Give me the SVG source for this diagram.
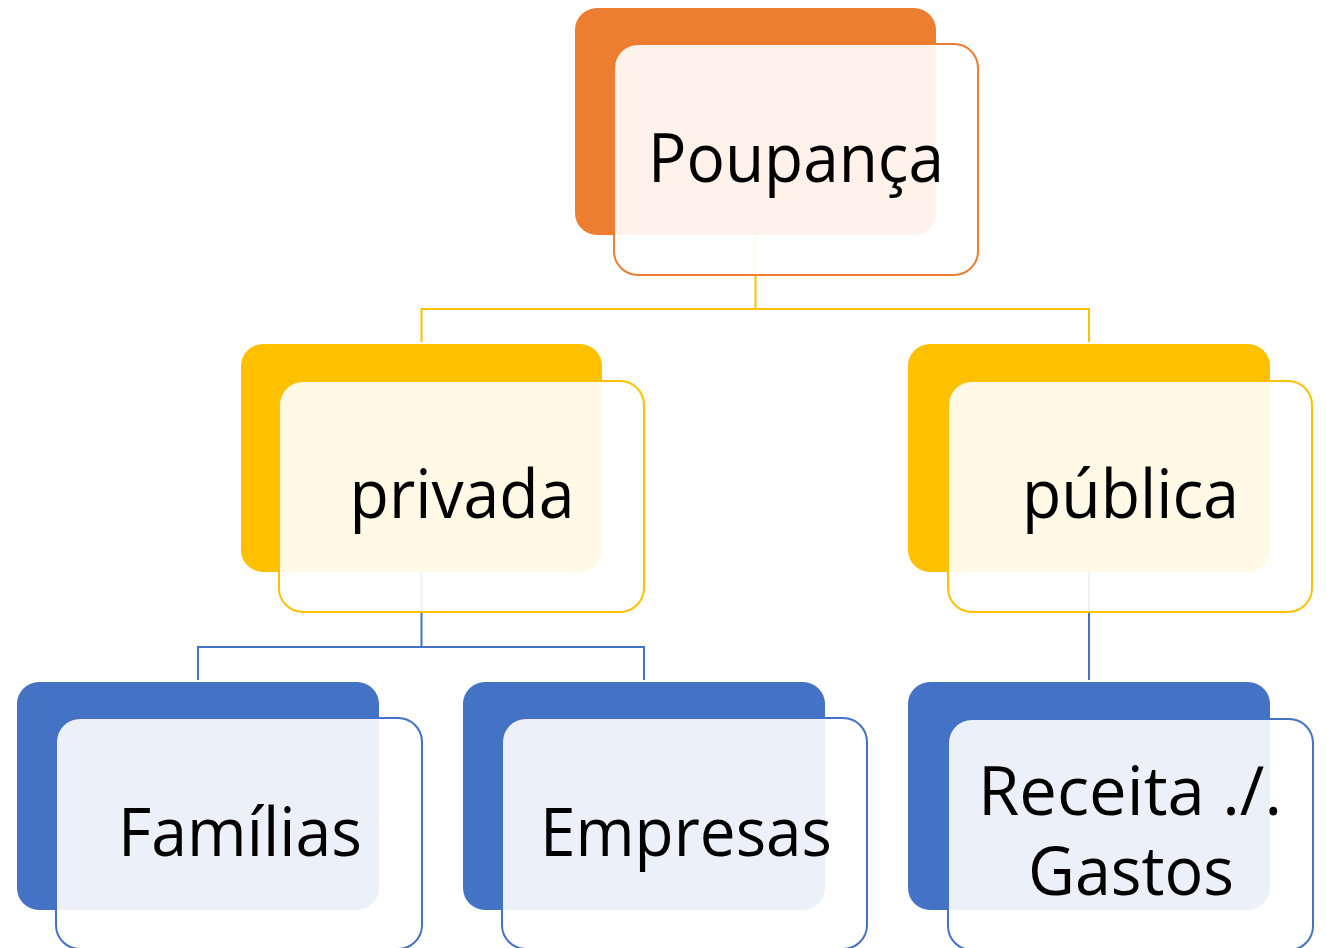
<svg xmlns="http://www.w3.org/2000/svg" width="1327" height="948" viewBox="0 0 1327 948">
<style>
.back{stroke:none}
.front{fill:#ffffff;fill-opacity:0.9;stroke-width:2}
.o .back{fill:#ED7D31}.o .front{stroke:#ED7D31}
.y .back{fill:#FFC000}.y .front{stroke:#FFC000}
.b .back{fill:#4472C4}.b .front{stroke:#4472C4}
text{font-family:"Open Sans","Noto Sans",sans-serif;font-size:67px;fill:#000;text-anchor:middle}
.conn{fill:none;stroke-width:2}
</style>
<rect width="1327" height="948" fill="#ffffff"/>
<g id="connectors">
<path class="conn" stroke="#FFC000" d="M755.5,230 V309 M421.5,342 V309 H1089 V342"/>
<path class="conn" stroke="#4472C4" d="M421.5,568 V647 M198,680 V647 H644 V680"/>
<path class="conn" stroke="#4472C4" d="M1089,568 V680"/>
</g>
<g id="poupanca" class="o">
<rect class="back" x="575" y="8" width="361" height="227" rx="22"/>
<rect class="front" x="614" y="44" width="364" height="231" rx="24"/>
<text x="796" y="182" textLength="296" lengthAdjust="spacingAndGlyphs">Poupança</text>
</g>
<g id="privada" class="y">
<rect class="back" x="241" y="344" width="361" height="228" rx="22"/>
<rect class="front" x="279" y="381" width="365" height="231" rx="24"/>
<text x="462" y="518" textLength="225" lengthAdjust="spacingAndGlyphs">privada</text>
</g>
<g id="publica" class="y">
<rect class="back" x="908" y="344" width="362" height="228" rx="22"/>
<rect class="front" x="948" y="381" width="364" height="231" rx="24"/>
<text x="1130.5" y="518" textLength="217" lengthAdjust="spacingAndGlyphs">pública</text>
</g>
<g id="familias" class="b">
<rect class="back" x="17" y="682" width="362" height="228" rx="22"/>
<rect class="front" x="56" y="718" width="366" height="231" rx="24"/>
<text x="240" y="856" textLength="244" lengthAdjust="spacingAndGlyphs">Famílias</text>
</g>
<g id="empresas" class="b">
<rect class="back" x="463" y="682" width="362" height="228" rx="22"/>
<rect class="front" x="502" y="718" width="365" height="231" rx="24"/>
<text x="686" y="856" textLength="292" lengthAdjust="spacingAndGlyphs">Empresas</text>
</g>
<g id="receita" class="b">
<rect class="back" x="908" y="682" width="362" height="228" rx="22"/>
<rect class="front" x="948" y="719" width="365" height="231" rx="24"/>
<text x="1130" y="815" textLength="304" lengthAdjust="spacingAndGlyphs">Receita ./.</text>
<text x="1131" y="895" textLength="206" lengthAdjust="spacingAndGlyphs">Gastos</text>
</g>
</svg>
